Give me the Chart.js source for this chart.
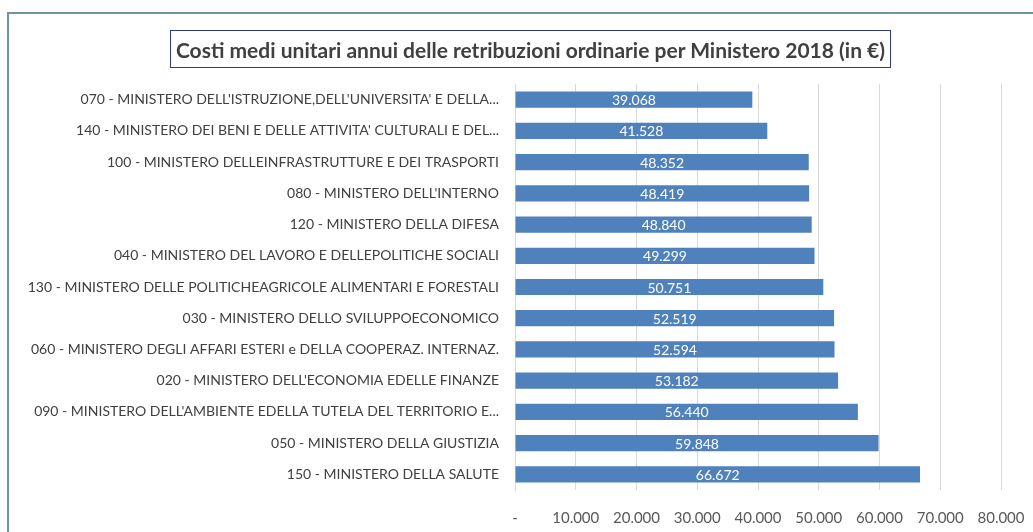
<!DOCTYPE html>
<html>
<head>
<meta charset="utf-8">
<script src="https://cdn.jsdelivr.net/npm/chart.js@4/dist/chart.umd.min.js"></script>
<style>
    body { margin: 0; background: #fff; }
    #wrap { position: relative; width: 1033px; height: 532px; }
    #cornice {
        position: absolute; left: 7px; top: 12px; right: -10px; bottom: -10px;
        border-left: 2px solid #6b97a3; border-top: 2px solid #6b97a3;
    }
    #titolo {
        position: absolute; left: 170px; top: 30px; width: 721px; height: 38px;
        border: 1px solid #2e3d80; box-sizing: border-box;
        font: bold 21px Lato, "Open Sans", sans-serif; color: #404040;
        display: flex; align-items: center; justify-content: center;
    }
    canvas { position: absolute; left: 0; top: 0; }
</style>
</head>
<body>
<div id="wrap">
    <canvas id="grafico" width="1033" height="532"></canvas>
    <div id="cornice"></div>
    <div id="titolo">Costi medi unitari annui delle retribuzioni ordinarie per Ministero 2018 (in €)</div>
</div>
<script>
// dati
const ministeri = [
    "070 - MINISTERO DELL'ISTRUZIONE,DELL'UNIVERSITA' E DELLA...",
    "140 - MINISTERO DEI BENI E DELLE ATTIVITA' CULTURALI E DEL...",
    "100 - MINISTERO DELLEINFRASTRUTTURE E DEI TRASPORTI",
    "080 - MINISTERO DELL'INTERNO",
    "120 - MINISTERO DELLA DIFESA",
    "040 - MINISTERO DEL LAVORO E DELLEPOLITICHE SOCIALI",
    "130 - MINISTERO DELLE POLITICHEAGRICOLE ALIMENTARI E FORESTALI",
    "030 - MINISTERO DELLO SVILUPPOECONOMICO",
    "060 - MINISTERO DEGLI AFFARI ESTERI e DELLA COOPERAZ. INTERNAZ.",
    "020 - MINISTERO DELL'ECONOMIA EDELLE FINANZE",
    "090 - MINISTERO DELL'AMBIENTE EDELLA TUTELA DEL TERRITORIO E...",
    "050 - MINISTERO DELLA GIUSTIZIA",
    "150 - MINISTERO DELLA SALUTE"
];
const costiMedi = [39068, 41528, 48352, 48419, 48840, 49299, 50751, 52519, 52594, 53182, 56440, 59848, 66672];
const tickMax = 80000;
const tickPasso = 10000;

const fonte = 'Lato, "Open Sans", sans-serif';

function formatta(v) {
    return String(Math.round(v)).replace(/\B(?=(\d{3})+(?!\d))/g, '.');
}

// etichette bianche al centro delle barre
const etichetteBarre = {
    id: 'etichetteBarre',
    afterDatasetsDraw(chart) {
        const ctx = chart.ctx;
        const meta = chart.getDatasetMeta(0);
        ctx.save();
        ctx.fillStyle = '#ffffff';
        ctx.font = '14px ' + fonte;
        ctx.textAlign = 'center';
        ctx.textBaseline = 'middle';
        meta.data.forEach((bar, i) => {
            const cx = (bar.x + bar.base) / 2;
            ctx.fillText(formatta(costiMedi[i]), cx, bar.y + 1);
        });
        ctx.restore();
    }
};

new Chart(document.getElementById('grafico'), {
    type: 'bar',
    data: {
        labels: ministeri,
        datasets: [{
            data: costiMedi,
            backgroundColor: '#4f81bd',
            borderWidth: 0,
            barPercentage: 0.52,
            categoryPercentage: 1
        }]
    },
    options: {
        indexAxis: 'y',
        responsive: false,
        animation: false,
        layout: { padding: { left: 0, right: 32, top: 84, bottom: 0 } },
        plugins: {
            legend: { display: false },
            tooltip: { enabled: false }
        },
        scales: {
            x: {
                min: 0,
                max: tickMax,
                ticks: {
                    stepSize: tickPasso,
                    color: '#595959',
                    font: { family: fonte, size: 15 },
                    padding: 19,
                    callback: v => v === 0 ? '-' : formatta(v)
                },
                grid: { color: '#d9d9d9', tickLength: 0 },
                border: { display: false },
                afterFit: s => {
                    s.height = 42;
                    s.paddingLeft = 0;
                    s.paddingRight = 0;
                }
            },
            y: {
                ticks: {
                    color: '#404040',
                    font: { family: fonte, size: 14 },
                    padding: 8,
                    autoSkip: false
                },
                grid: { display: false },
                border: { display: true, color: '#d9d9d9' },
                afterFit: s => { s.width = 515; }
            }
        }
    },
    plugins: [etichetteBarre]
});
</script>
</body>
</html>
